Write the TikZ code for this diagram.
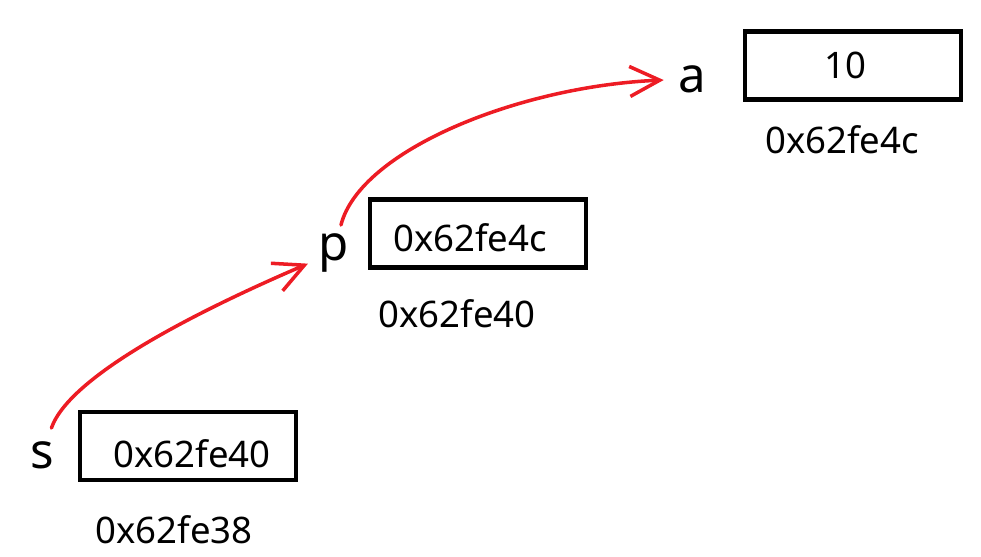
\documentclass[tikz,border=0pt]{standalone}
\usepackage{fontspec}
\setmainfont{Noto Sans}
\usetikzlibrary{arrows.meta}
\definecolor{ptrred}{RGB}{237,28,36}

\begin{document}
\begin{tikzpicture}[
    x=0.02cm, y=-0.02cm,
    cell/.style={rectangle, draw, line width=2.6pt, minimum width=4.32cm,
    minimum height=1.36cm, inner sep=0pt},
    val/.style={anchor=base, inner sep=0pt, font=\fontsize{20.8}{24}\selectfont},
    var/.style={circle, anchor=base, minimum size=1.12cm, inner sep=0pt,
    font=\fontsize{28}{32}\selectfont},
    ptr/.style={draw=ptrred, line width=2pt, line cap=round,
    -{Straight Barb[length=6mm, width=6mm]}}
]
\useasboundingbox (0,0) rectangle (981,556);
% variable a
\node[cell] (ca) at (853,65.5) {};
\node[val] (va) at (845,78) {10};
\node[val] (ada) at (842,153) {0x62fe4c};
\node[var] (a) at (692,92) {a};
% pointer p
\node[cell] (cp) at (478,233.5) {};
\node[val] (vp) at (470,251) {0x62fe4c};
\node[val] (adp) at (457,327) {0x62fe40};
\node[var] (p) at (334,260) {p};
% pointer to pointer s
\node[cell] (cs) at (188,446) {};
\node[val] (vs) at (192,467) {0x62fe40};
\node[val] (ads) at (174,543) {0x62fe38};
\node[var] (s) at (42,468) {s};
% links
\draw[ptr] (s) .. controls (70,375) and (200,310) .. (p);
\draw[ptr] (p) .. controls (360,150) and (520,86) .. (a);
\end{tikzpicture}
\end{document}
